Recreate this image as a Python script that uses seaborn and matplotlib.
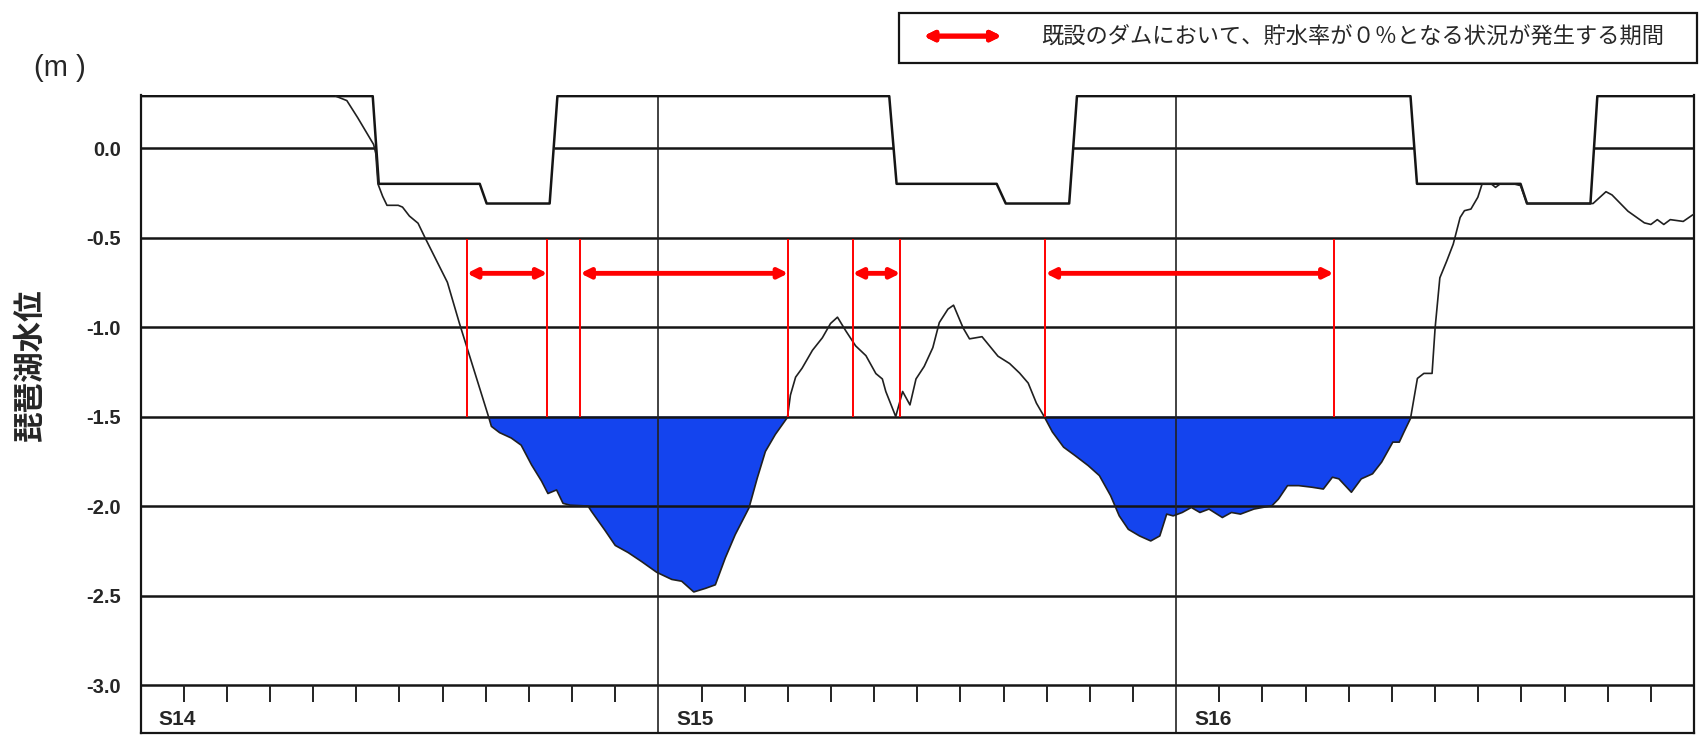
import numpy as np
import pandas as pd
import seaborn as sns
import matplotlib.pyplot as plt
from matplotlib.patches import Rectangle

sns.set_theme(style="white")
plt.rcParams['font.family'] = ['Liberation Sans', 'Noto Sans CJK JP', 'DejaVu Sans']

# months counted from start of S14
level_month = [4.52, 4.78, 5.03, 5.40, 5.45, 5.50, 5.61, 5.71, 5.97, 6.07, 6.23, 6.43, 6.59,
               7.11, 7.39, 8.05, 8.13, 8.32, 8.59, 8.82, 9.06, 9.29, 9.44, 9.64, 9.79, 9.95,
               10.37, 10.45, 10.76, 11.00, 11.30, 11.61, 11.96, 12.31, 12.54, 12.82, 13.09,
               13.32, 13.55, 13.78, 14.10, 14.29, 14.48, 14.71, 14.99, 15.06, 15.18, 15.33,
               15.57, 15.80, 15.99, 16.15, 16.34, 16.57, 16.81, 17.04, 17.19, 17.27, 17.50,
               17.66, 17.83, 17.97, 18.16, 18.36, 18.51, 18.71, 18.84, 19.06, 19.21, 19.50,
               19.68, 19.87, 20.14, 20.37, 20.57, 20.76, 20.94, 21.13, 21.39, 21.65, 21.96,
               22.22, 22.48, 22.68, 22.89, 23.15, 23.41, 23.62, 23.78, 23.93, 24.14, 24.35,
               24.55, 24.76, 25.07, 25.28, 25.49, 25.80, 26.22, 26.37, 26.58, 26.84, 27.15,
               27.41, 27.62, 27.77, 28.06, 28.29, 28.55, 28.76, 29.02, 29.17, 29.28, 29.43,
               29.59, 29.74, 29.93, 30.00, 30.11, 30.27, 30.42, 30.58, 30.68, 30.83, 30.99,
               31.09, 31.30, 31.40, 31.51, 31.82, 31.98, 32.13, 33.66, 33.96, 34.10, 34.47,
               34.85, 35.00, 35.15, 35.30, 35.45, 35.75, 35.96, 36.00]
level_value = [0.29, 0.265, 0.17, 0.02, -0.03, -0.20, -0.27, -0.32, -0.32, -0.33, -0.38, -0.42, -0.50,
               -0.75, -0.98, -1.49, -1.555, -1.59, -1.62, -1.66, -1.77, -1.86, -1.93, -1.91, -1.985, -1.995,
               -2.00, -2.03, -2.135, -2.22, -2.26, -2.31, -2.37, -2.41, -2.42, -2.48, -2.46,
               -2.44, -2.29, -2.16, -2.01, -1.845, -1.695, -1.60, -1.505, -1.38, -1.28, -1.23,
               -1.13, -1.06, -0.98, -0.945, -1.02, -1.105, -1.16, -1.26, -1.29, -1.36, -1.50,
               -1.36, -1.435, -1.29, -1.22, -1.115, -0.975, -0.90, -0.878, -1.004, -1.066, -1.054,
               -1.107, -1.163, -1.204, -1.257, -1.313, -1.425, -1.50, -1.586, -1.671, -1.717, -1.774,
               -1.83, -1.942, -2.055, -2.13, -2.167, -2.195, -2.167, -2.045, -2.055, -2.036, -2.008,
               -2.036, -2.017, -2.064, -2.036, -2.045, -2.017, -1.998, -1.961, -1.886, -1.886, -1.895,
               -1.905, -1.839, -1.848, -1.923, -1.848, -1.82, -1.755, -1.643, -1.643, -1.586, -1.511,
               -1.287, -1.259, -1.259, -1.006, -0.725, -0.631, -0.537, -0.388, -0.35, -0.341, -0.275,
               -0.20, -0.20, -0.22, -0.20, -0.20, -0.21, -0.31, -0.31, -0.244, -0.262, -0.353,
               -0.418, -0.427, -0.40, -0.427, -0.40, -0.41, -0.375, -0.37]

rule_month = [0, 5.38, 5.52, 7.86, 8.02, 9.48, 9.66, 17.35, 17.52, 19.84, 20.05, 21.52, 21.70,
              29.43, 29.58, 31.98, 32.13, 33.60, 33.76, 36]
rule_value = [0.29, 0.29, -0.20, -0.20, -0.31, -0.31, 0.29, 0.29, -0.20, -0.20, -0.31, -0.31, 0.29,
              0.29, -0.20, -0.20, -0.31, -0.31, 0.29, 0.29]

zero_start = [0, 9.57, 21.62, 33.69]
zero_end = [5.46, 17.43, 29.52, 36]

period_start = [7.56, 10.19, 16.50, 20.97]
period_end = [9.43, 15.01, 17.61, 27.65]

year_labels = ['S14', 'S15', 'S16']
year_month = [0, 12, 24]
ytick_values = [0.0, -0.5, -1.0, -1.5, -2.0, -2.5, -3.0]
ytick_labels = ['0.0', '-0.5', '-1.0', '-1.5', '-2.0', '-2.5', '-3.0']
zero_rate_level = -1.5
legend_text = '既設のダムにおいて、貯水率が０％となる状況が発生する期間'

df = pd.DataFrame({'month': level_month, 'level': level_value})
rule = pd.DataFrame({'month': rule_month, 'level': rule_value})

fig = plt.figure(figsize=(17.02, 7.37), dpi=100)
ax = fig.add_axes([0.0826, 0.0054, 0.9127, 0.8654])

# blue area below -1.5
ax.fill_between(df['month'], df['level'], zero_rate_level,
                where=df['level'] < zero_rate_level, interpolate=True,
                color='#1444ee', lw=0, zorder=1)

for v in ytick_values[1:]:
    ax.axhline(v, color='#151515', lw=1.8, zorder=2)
ax.hlines([0.0] * len(zero_start), zero_start, zero_end, color='#151515', lw=1.8, zorder=2)
ax.vlines(year_month[1:], -3.3, 0.29, color='#222222', lw=1.2, zorder=2)

# month ticks
months = np.arange(1, 36)
months = months[months % 12 != 0]
ax.vlines(months, -3.0, -3.093, color='#222222', lw=1.4, zorder=2)

sns.lineplot(data=rule, x='month', y='level', color='#151515', lw=1.8,
             estimator=None, sort=False, ax=ax, zorder=3)
sns.lineplot(data=df, x='month', y='level', color='#202020', lw=1.2,
             estimator=None, sort=False, ax=ax, zorder=3)

# red periods
ax.vlines(period_start + period_end, -0.51, -1.5, color='red', lw=1.4, zorder=4)
for s, e in zip(period_start, period_end):
    ax.annotate('', xy=(e, -0.70), xytext=(s, -0.70),
                arrowprops=dict(arrowstyle='<|-|>', color='red', lw=3.5,
                                mutation_scale=14, shrinkA=0, shrinkB=0), zorder=5)

for lab, m in zip(year_labels, year_month):
    ax.text(m + 0.42, -3.195, lab, fontsize=15, fontweight='bold', ha='left', va='center')

ax.set_xlim(0, 36)
ax.set_ylim(-3.268, 0.295)
ax.set_xticks([])
ax.set_yticks(ytick_values)
ax.set_yticklabels(ytick_labels, fontsize=14.5, fontweight='bold')
ax.tick_params(axis='y', length=0, pad=14)
ax.set_xlabel('')
ax.set_ylabel('')
ax.spines['top'].set_visible(False)
for s in ['left', 'right', 'bottom']:
    ax.spines[s].set_color('#151515')
    ax.spines[s].set_linewidth(1.6)

fig.text(0.0352, 0.908, '(m )', fontsize=21, ha='center', va='center')
fig.text(0.0175, 0.505, '琵琶湖水位', rotation=90, fontsize=22, fontweight='bold',
         ha='center', va='center', family=['Noto Sans CJK JP', 'DejaVu Sans'])

# legend box
fig.patches.append(Rectangle((0.528, 0.9145), 0.469, 0.0679, transform=fig.transFigure,
                             fill=False, edgecolor='#151515', lw=1.6))
fig.add_artist(plt.annotate('', xy=(0.5885, 0.951), xytext=(0.5427, 0.951),
                            xycoords='figure fraction',
                            arrowprops=dict(arrowstyle='<|-|>', color='red', lw=3.5,
                                            mutation_scale=14, shrinkA=0, shrinkB=0)))
fig.text(0.6115, 0.951, legend_text, fontsize=16, ha='left', va='center',
         family=['Noto Sans CJK JP', 'DejaVu Sans'])

fig.savefig('out.png', dpi=100)
